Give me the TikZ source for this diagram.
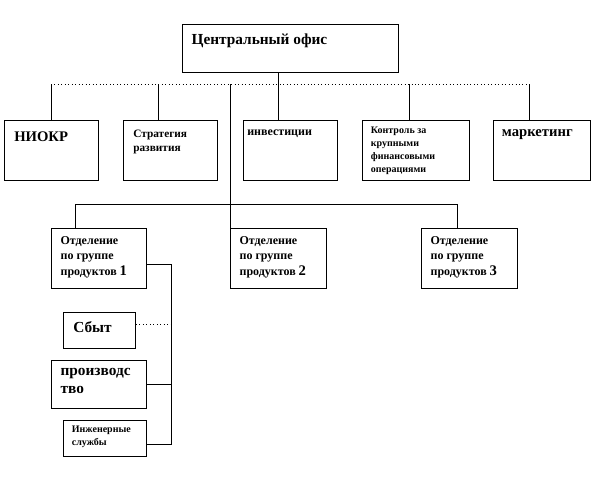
\documentclass[tikz,border=0pt]{standalone}
\usepackage{fontspec}
\setmainfont{Liberation Serif}
\usetikzlibrary{positioning}
\newcommand{\fs}[2]{\fontsize{#1}{#2}\selectfont\bfseries}

\begin{document}
\begin{tikzpicture}[x=0.75pt,y=-0.75pt,
   box/.style={draw,line width=0.75pt,anchor=north west,inner sep=0pt},
   txt/.style={inner sep=0pt,align=left},
   link/.style={line width=0.75pt},
   dots/.style={dotted,line width=0.6pt}]
   \useasboundingbox (0,0) rectangle (615,480);
   \node[box,minimum width=162pt,minimum height=36pt] (office) at (182,24) {};
   \node[box,minimum width=70.5pt,minimum height=45pt] (niokr) at (4,120) {};
   \node[box,minimum width=70.5pt,minimum height=45pt] (strat) at (123,120) {};
   \node[box,minimum width=70.5pt,minimum height=45pt] (invest) at (243,120) {};
   \node[box,minimum width=80.25pt,minimum height=45pt] (control) at (362,120) {};
   \node[box,minimum width=72.75pt,minimum height=45pt] (market) at (493,120) {};
   \node[box,minimum width=71.25pt,minimum height=45pt] (div1) at (51,228) {};
   \node[box,minimum width=72pt,minimum height=45pt] (div2) at (230,228) {};
   \node[box,minimum width=72pt,minimum height=45pt] (div3) at (421,228) {};
   \node[box,minimum width=54pt,minimum height=27pt] (sales) at (63,312) {};
   \node[box,minimum width=71.25pt,minimum height=36pt] (prod) at (51,360) {};
   \node[box,minimum width=62.25pt,minimum height=27pt] (eng) at (63,420) {};

   \node[txt,font=\fs{11.5}{14},below right=7pt and 7pt of office.north west] (t-office) {Центральный офис};
   \node[txt,font=\fs{11}{13},below right=9pt and 7.5pt of niokr.north west] (t-niokr) {НИОКР};
   \node[txt,font=\fs{8.5}{11},below right=7pt and 7.5pt of strat.north west] (t-strat) {Стратегия\\развития};
   \node[txt,font=\fs{9}{11},below right=7pt and 3pt of invest.north west] (t-invest) {инвестиции};
   \node[txt,font=\fs{7.5}{9.8},below right=5pt and 6.5pt of control.north west] (t-control) {Контроль за\\крупными\\финансовыми\\операциями};
   \node[txt,font=\fs{11}{13},below right=7pt and 6.5pt of market.north west] (t-market) {маркетинг};
   \node[txt,font=\fs{9}{11.3},below right=6.5pt and 7pt of div1.north west] (t-div1) {Отделение\\по группе\\продуктов {\fontsize{11}{11}\selectfont 1}};
   \node[txt,font=\fs{9}{11.3},below right=6.5pt and 7pt of div2.north west] (t-div2) {Отделение\\по группе\\продуктов {\fontsize{11}{11}\selectfont 2}};
   \node[txt,font=\fs{9}{11.3},below right=6.5pt and 7pt of div3.north west] (t-div3) {Отделение\\по группе\\продуктов {\fontsize{11}{11}\selectfont 3}};
   \node[txt,font=\fs{11.5}{14},below right=7pt and 7.5pt of sales.north west] (t-sales) {Сбыт};
   \node[txt,font=\fs{11.5}{13.5},below right=6pt and 7pt of prod.north west] (t-prod) {производс\\тво};
   \node[txt,font=\fs{7.5}{9.8},below right=4.5pt and 6.5pt of eng.north west] (t-eng) {Инженерные\\службы};

   \coordinate (b1) at (51,84);
   \coordinate (b2) at (158,84);
   \coordinate (b3) at (278,84);
   \coordinate (b4) at (409,84);
   \coordinate (b5) at (529,84);
   \coordinate (t0) at (230,84);
   \coordinate (h1) at (75,204);
   \coordinate (h3) at (457,204);
   \coordinate (s1) at (171,264);
   \coordinate (s2) at (171,444);
   \coordinate (s3) at (171,324);

   \draw[dots] (b1) -- (b5);
   \draw[link] (office.south -| b3) -- (invest.north -| b3);
   \draw[link] (b1) -- (niokr.north -| b1);
   \draw[link] (b2) -- (strat.north -| b2);
   \draw[link] (b4) -- (control.north -| b4);
   \draw[link] (b5) -- (market.north -| b5);
   \draw[link] (t0) -- (div2.north west);
   \draw[link] (div1.north -| h1) -- (h1) -- (h3) -- (div3.north -| h3);
   \draw[link] (div1.east |- s1) -- (s1) -- (s2) -- (eng.east |- s2);
   \draw[link] (prod.east) -- (prod.east -| s1);
   \draw[dots] (sales.east |- s3) -- (s3);
\end{tikzpicture}
\end{document}
